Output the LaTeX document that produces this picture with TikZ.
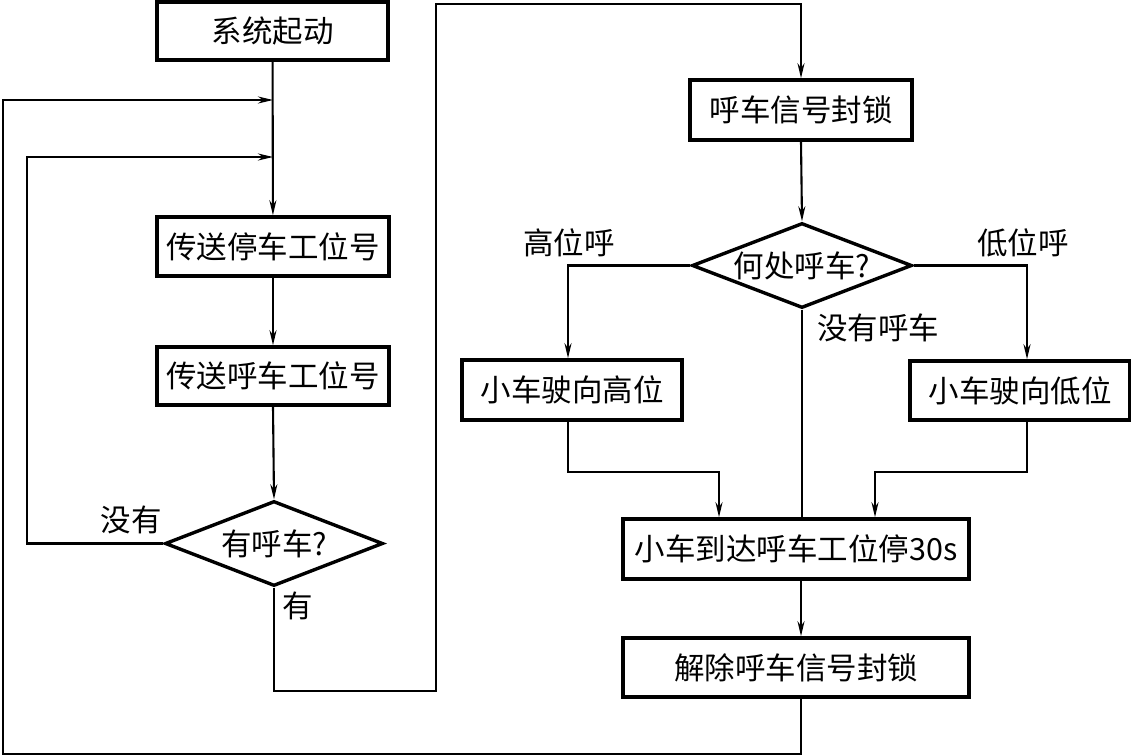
\documentclass[tikz,border=0pt]{standalone}
\usepackage{fontspec}
\setmainfont{Noto Sans CJK SC}
\usetikzlibrary{shapes.geometric,arrows.meta}
\begin{document}
\begin{tikzpicture}[x=1pt,y=-1pt,
  box/.style={draw,line width=3.6pt,inner sep=0pt,font=\fontsize{30.5pt}{33pt}\selectfont},
  dia/.style={draw,diamond,shape aspect=2.56,line width=3.4pt,inner sep=0pt,minimum width=218pt,minimum height=85pt,font=\fontsize{30.5pt}{33pt}\selectfont},
  lbl/.style={font=\fontsize{30.5pt}{33pt}\selectfont,inner sep=0pt},
  ln/.style={line width=2.1pt},
  arr/.style={line width=2.1pt,-{Stealth[length=15pt,width=7pt]}}]
\useasboundingbox (0,0) rectangle (1131,755);
% nodes
\node[box,minimum width=231pt,minimum height=58pt] (start) at (272.5,31) {系统起动};
\node[box,minimum width=232pt,minimum height=59pt] (s1) at (273,246.5) {传送停车工位号};
\node[box,minimum width=232pt,minimum height=58pt] (s2) at (273,376) {传送呼车工位号};
\node[dia] (d1) at (274,543.5) {有呼车?};
\node[box,minimum width=222pt,minimum height=60pt] (lock) at (801,110) {呼车信号封锁};
\node[dia,minimum width=220pt] (d2) at (802,265.5) {何处呼车?};
\node[box,minimum width=220pt,minimum height=60pt] (high) at (572,390) {小车驶向高位};
\node[box,minimum width=220pt,minimum height=59pt] (low) at (1020,390.5) {小车驶向低位};
\node[box,minimum width=346pt,minimum height=60pt] (arrive) at (796,549) {小车到达呼车工位停30s};
\node[box,minimum width=346pt,minimum height=59pt] (release) at (796,667.5) {解除呼车信号封锁};
% labels
\node[lbl] (ln1) at (131,520) {没有};
\node[lbl] (ln2) at (298,606) {有};
\node[lbl] (ln3) at (569,243) {高位呼};
\node[lbl] (ln4) at (1023,243) {低位呼};
\node[lbl] (ln5) at (878,328) {没有呼车};
% junction coordinates
\coordinate (j1) at (273,100);
\coordinate (j2) at (273,157);
% connectors left column
\draw[arr] (start) -- (s1);
\draw[arr] (s1) -- (s2);
\draw[arr] (s2.south) -- (d1.north);
\draw[arr] (release.south -| 801,0) -- (801,754) -- (3,754) -- (3,100) -- (j1);
\draw[arr] (d1.west) -- (27,543.5) -- (27,157) -- (j2);
\draw[arr] (d1.south) -- (274,691) -- (436,691) -- (436,4) -- (801,4) -- (lock.north);
% right column
\draw[arr] (lock.south) -- (d2.north);
\draw[arr] (d2.west) -| (high.north -| 568,0);
\draw[arr] (d2.east) -| (low.north -| 1027,0);
\draw[ln] (d2.south) -- (arrive.north -| d2.south);
\draw[arr] (high.south -| 568,0) -- (568,472) -| (arrive.north -| 719,0);
\draw[arr] (low.south -| 1027,0) -- (1027,472) -| (arrive.north -| 875,0);
\draw[arr] (arrive.south -| 801,0) -- (release.north -| 801,0);
\end{tikzpicture}
\end{document}
